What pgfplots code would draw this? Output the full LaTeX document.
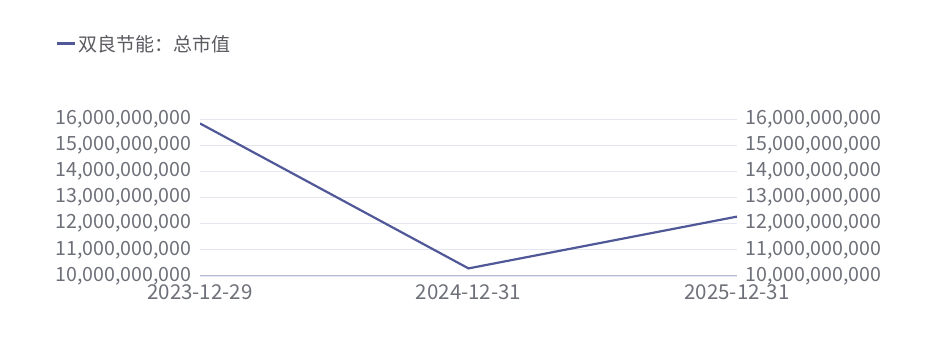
\documentclass[border=0pt]{standalone}
\usepackage{fontspec}
\setmainfont{Noto Sans CJK SC}
\usepackage{pgfplots}
\pgfplotsset{compat=1.18}
\definecolor{lineC}{RGB}{80,88,152}
\definecolor{gridC}{RGB}{228,231,242}
\definecolor{axC}{RGB}{182,185,210}
\definecolor{txtC}{RGB}{110,112,121}
\definecolor{legC}{RGB}{90,90,96}
\begin{document}
\begin{tikzpicture}[x=1pt,y=1pt]
\useasboundingbox (0,0) rectangle (937,339);
\pgfplotsset{
  common/.style={
    at={(200pt,63pt)}, anchor=south west,
    scale only axis, width=537pt, height=157pt,
    xmin=0, xmax=2, ymin=10000000000, ymax=16000000000,
    ytick={10000000000,11000000000,12000000000,13000000000,14000000000,15000000000,16000000000},
    scaled y ticks=false,
    major tick length=0pt,
    tick style={draw=none},
    yticklabel style={font=\fontsize{19.6}{19.6}\selectfont, text=txtC,
      /pgf/number format/.cd, fixed, precision=0, 1000 sep={,}, assume math mode=true},
  }
}
\begin{axis}[common,
  xtick={0,1,2}, xticklabels={2023-12-29,2024-12-31,2025-12-31},
  xticklabel style={font=\fontsize{20.5}{20.5}\selectfont, text=txtC},
  xticklabel shift=5pt,
  yticklabel shift=5pt,
  axis x line*=bottom, axis y line*=left,
  y axis line style={draw=none},
  x axis line style={axC, line width=1pt},
  ymajorgrids, grid style={gridC, line width=0.8pt},
  legend style={draw=none, fill=none, at={(-0.2695,1.478)}, anchor=west,
    font=\fontsize{19}{19}\selectfont, text=legC, inner xsep=0pt, inner ysep=0pt},
  legend cell align=left,
  legend image code/.code={\draw[line width=3pt] (0pt,0pt) -- (18pt,0pt);},
]
\addplot[lineC, line width=2.2pt] coordinates {(0,15830000000) (1,10290000000) (2,12270000000)};
\addlegendentry{双良节能：总市值}
\end{axis}
\begin{axis}[common,
  axis x line=none, axis y line*=right,
  y axis line style={draw=none},
  yticklabel shift=5pt,
]
\end{axis}
\end{tikzpicture}
\end{document}
